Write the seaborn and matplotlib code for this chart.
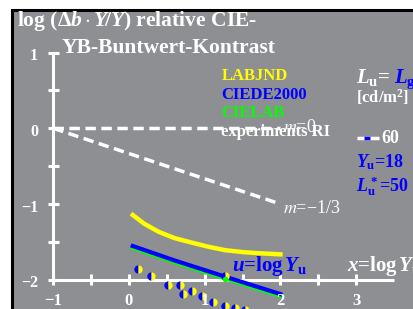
import matplotlib
matplotlib.use("Agg")
import matplotlib.pyplot as plt
from matplotlib.patches import Rectangle
import pandas as pd
import seaborn as sns

# values (x = log Y, y = log(delta b * Y / Y))
labjnd_x = [0.05, 0.2, 0.39, 0.6, 0.83, 1.05, 1.27, 1.5, 1.71, 2.0]
labjnd_y = [-1.145, -1.26, -1.366, -1.45, -1.51, -1.565, -1.61, -1.635, -1.65, -1.665]
ciede_x = [0.05, 0.6, 1.27, 2.0]
ciede_y = [-1.555, -1.745, -1.96, -2.19]
cielab_x = [0.05, 0.6, 1.27, 2.0]
cielab_y = [-1.578, -1.768, -1.983, -2.213]
exp_x = [0.115, 0.29, 0.51, 0.67, 0.72, 0.83, 0.96, 1.11, 1.27, 1.40, 1.53]
exp_y = [-1.863, -1.95, -2.07, -2.07, -2.19, -2.145, -2.22, -2.30, -2.35, -2.37, -2.40]
u_mark = 1.27
x_ticks = [-1, 0, 1, 2, 3]
y_ticks = [1, 0, -1, -2]

GRAY = "#8e8f93"
BLUE = "#0000ff"
YELLOW = "#ffff00"
GREEN = "#00ff00"

plt.rcParams["font.family"] = ["Liberation Serif", "DejaVu Serif"]
plt.rcParams["mathtext.fontset"] = "custom"
plt.rcParams["mathtext.rm"] = "Liberation Serif:weight=bold"
plt.rcParams["mathtext.bf"] = "Liberation Serif:weight=bold"
plt.rcParams["mathtext.it"] = "Liberation Serif:style=italic:weight=bold"

fig = plt.figure(figsize=(4.13, 3.09), dpi=100)
fig.patch.set_facecolor("white")
fig.patches.append(Rectangle((11.5 / 413, -0.1), 1.2, (309 - 9.5) / 309 + 0.1,
                             transform=fig.transFigure, facecolor=GRAY,
                             edgecolor="black", linewidth=2.2, zorder=-1))
ax = fig.add_axes([0, 0, 1, 1])
ax.set_zorder(1)
ax.set_xlim(-1.704, 3.752)
ax.set_ylim(-2.387, 1.695)
ax.axis("off")

# axes drawn in white
ax.plot([-1, -1], [-2, 1], color="white", lw=2.2, solid_capstyle="butt")
ax.plot([-1, 3.5], [-2, -2], color="white", lw=2.2, solid_capstyle="butt")
for t in [1, 0.5, 0, -0.5, -1, -1.5, -2]:
    ax.plot([-1.07, -0.93], [t, t], color="white", lw=2.2, solid_capstyle="butt")
for t in [-1, -0.5, 0, 0.5, 1, 1.5, 2, 2.5, 3]:
    ax.plot([t, t], [-2.07, -1.93], color="white", lw=2.2, solid_capstyle="butt")
for t in y_ticks:
    ax.text(-1.2, t - 0.05, "\u2212%d" % -t if t < 0 else str(t), color="white",
            fontsize=11.5, fontweight="bold", ha="right", va="center")
for t in x_ticks:
    ax.text(t, -2.28, "\u2212%d" % -t if t < 0 else str(t), color="white",
            fontsize=12, fontweight="bold", ha="center", va="center")

# reference slopes
ax.plot([-1, 2], [0, 0], color="white", lw=2.5, dashes=(3, 1.6))
ax.plot([-1, 2], [0, -1], color="white", lw=2.5, dashes=(3, 1.6))

curves = pd.DataFrame({"x": labjnd_x, "y": labjnd_y})
sns.lineplot(data=curves, x="x", y="y", color=YELLOW, lw=3.2, ax=ax, sort=False)
sns.lineplot(x=cielab_x, y=cielab_y, color=GREEN, lw=3, ax=ax, sort=False)
sns.lineplot(x=ciede_x, y=ciede_y, color=BLUE, lw=3, ax=ax, sort=False)

# marker at u = log Yu
ax.plot([u_mark], [-1.955], "o", ms=6, fillstyle="left", markerfacecolor=BLUE,
        markerfacecoloralt=YELLOW, markeredgewidth=0)
ax.plot([u_mark], [-1.995], "o", ms=4, color=GREEN, markeredgewidth=0)

sns.lineplot(x=exp_x, y=exp_y, ax=ax, sort=False, linestyle="", marker="o",
             markersize=6, fillstyle="left", markerfacecolor=BLUE,
             markerfacecoloralt=YELLOW, markeredgewidth=0)

# texts
ax.text(-1.48, 1.351, r"log ($\Delta b\cdot Y\!/Y$) relative CIE-", color="white",
        fontsize=15.5, fontweight="bold")
ax.text(-0.889, 0.99, "YB-Buntwert-Kontrast", color="white", fontsize=15.5,
        fontweight="bold")
ax.text(1.225, 0.638, "LABJND", color=YELLOW, fontsize=12, fontweight="bold")
ax.text(1.225, 0.383, "CIEDE2000", color=BLUE, fontsize=12, fontweight="bold")
ax.text(1.225, 0.145, "CIELAB", color=GREEN, fontsize=12, fontweight="bold")
ax.text(1.21, -0.10, "experiments RI", color="white", fontsize=12, fontweight="bold")
ax.text(2.04, -0.045, "$m$=0", color="white", fontsize=13, math_fontfamily="stix")
ax.text(2.04, -1.123, "$m$=\u22121/3", color="white", fontsize=13,
        math_fontfamily="stix")

ax.text(3.0, 0.6, r"$L_\mathrm{u}$=", color="white", fontsize=15, fontweight="bold")
ax.text(3.5, 0.6, r"$L_\mathrm{g}$", color=BLUE, fontsize=15, fontweight="bold")
ax.text(3.0, 0.34, r"[cd/m$^2$]", color="white", fontsize=12, fontweight="bold")
ax.plot([3.01, 3.30], [-0.128, -0.128], color="white", lw=2.5,
        solid_capstyle="butt")
ax.plot([3.11, 3.19], [-0.128, -0.128], color=BLUE, lw=2.5, solid_capstyle="butt")
ax.text(3.34, -0.198, "60", color="white", fontsize=13, fontweight="bold")
ax.text(3.0, -0.515, r"$Y_\mathrm{u}$=18", color=BLUE, fontsize=13, fontweight="bold")
ax.text(3.0, -0.837, r"$L^*_\mathrm{u}$=50", color=BLUE, fontsize=13,
        fontweight="bold")

ax.text(1.357, -1.88, r"$u$=log$\,Y_\mathrm{u}$", color=BLUE, fontsize=15,
        fontweight="bold")
ax.text(2.876, -1.88, r"$x$=log$\,Y_\mathrm{u}$", color="white", fontsize=15,
        fontweight="bold")

fig.savefig("out.png", dpi=100)
